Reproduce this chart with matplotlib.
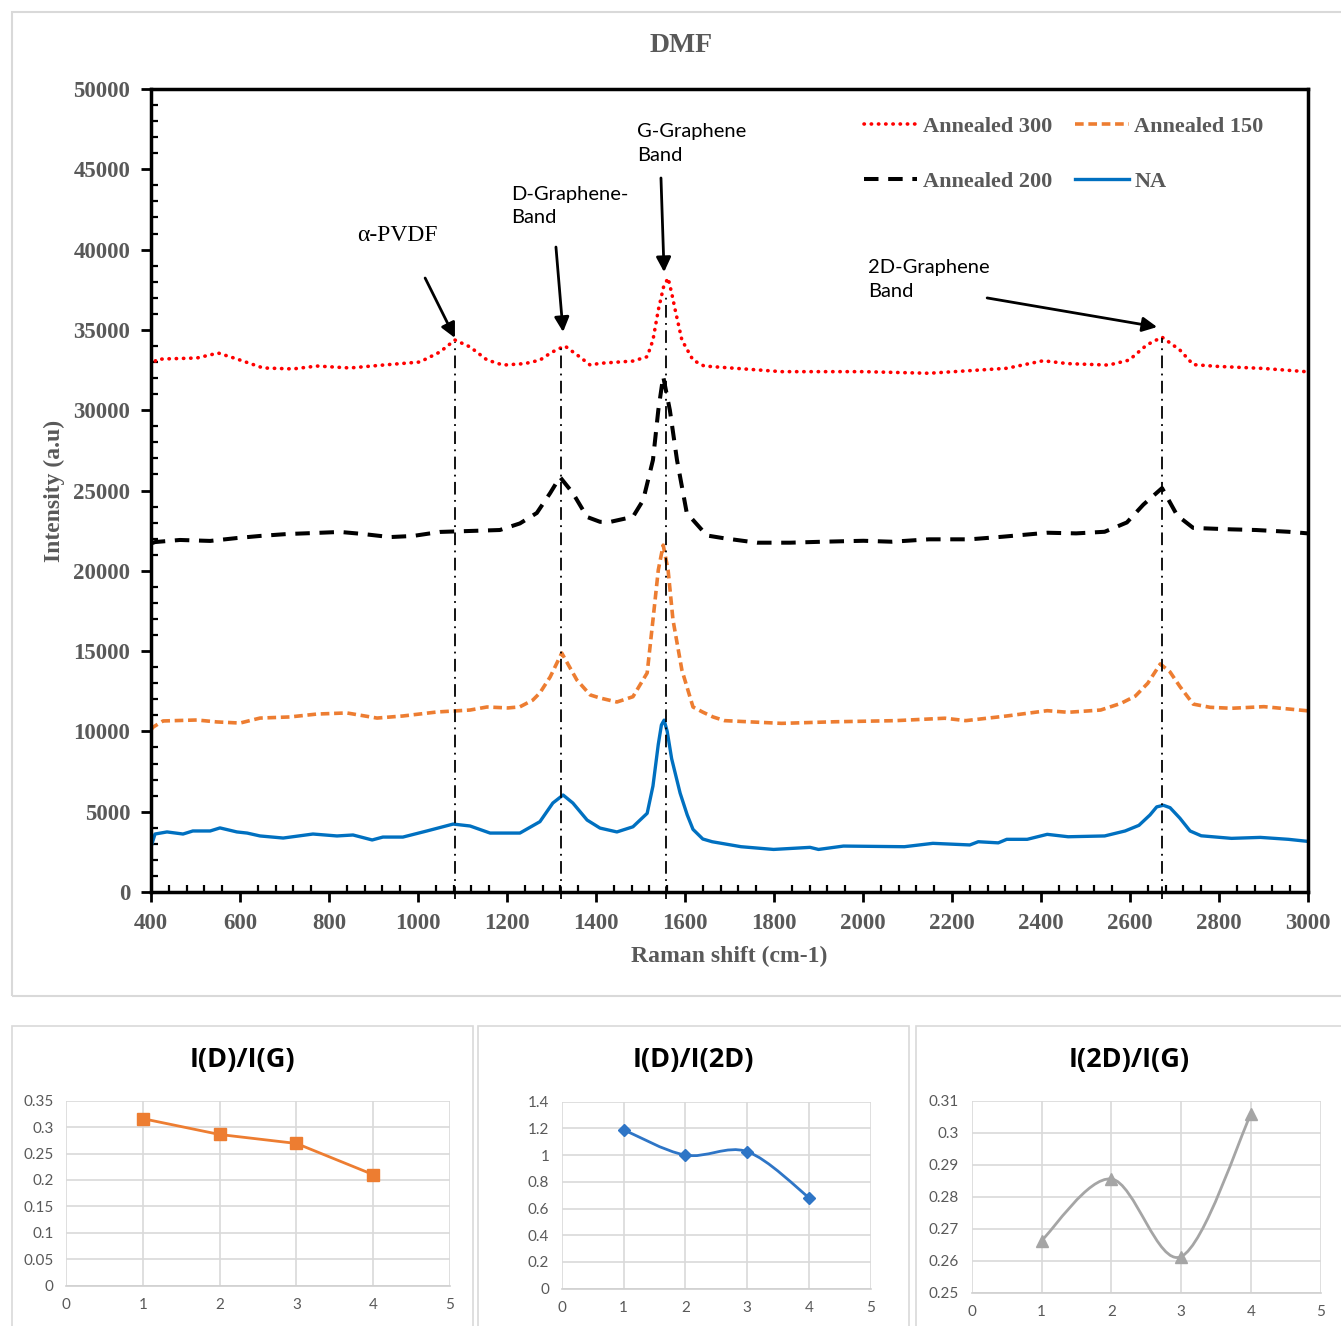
import numpy as np
import matplotlib
matplotlib.use('Agg')
import matplotlib.pyplot as plt
from matplotlib.ticker import MultipleLocator
from matplotlib.patches import Rectangle, PathPatch
from matplotlib.path import Path

# ---- Raman spectra ----
x_a300 = [400, 412, 427, 503, 551, 593, 652, 719, 773, 847, 921, 1004, 1049, 1083, 1117, 1155, 1191,
          1240, 1274, 1300, 1330, 1364, 1387, 1409, 1483, 1515, 1528, 1540, 1552, 1562, 1570, 1578,
          1593, 1618, 1643, 1817, 2001, 2148, 2323, 2405, 2460, 2552, 2598, 2638, 2672, 2712, 2742,
          2795, 2900, 3000]
y_a300 = [32700, 33150, 33190, 33250, 33560, 33190, 32630, 32570, 32750, 32630, 32810, 33000, 33620,
          34370, 33940, 33130, 32810, 32900, 33120, 33600, 34000, 33310, 32810, 32920, 33060, 33330,
          34370, 36240, 37700, 38230, 37300, 36240, 34370, 33120, 32750, 32400, 32400, 32300, 32610,
          33080, 32900, 32810, 33120, 34070, 34550, 33750, 32840, 32730, 32600, 32390]

x_a200 = [400, 409, 465, 533, 593, 645, 706, 764, 825, 877, 937, 989, 1049, 1117, 1184, 1229, 1267,
          1297, 1319, 1348, 1380, 1409, 1431, 1483, 1506, 1528, 1540, 1551, 1566, 1582, 1604, 1649,
          1689, 1762, 1836, 1909, 2001, 2065, 2148, 2240, 2313, 2414, 2479, 2543, 2593, 2630, 2672,
          2706, 2742, 2828, 2883, 2956, 3000]
y_a200 = [21700, 21790, 21920, 21860, 22040, 22170, 22290, 22350, 22420, 22290, 22100, 22170, 22420,
          22480, 22540, 22950, 23600, 24840, 25840, 24840, 23350, 23050, 23040, 23360, 24400, 26900,
          30000, 32100, 30000, 26900, 23600, 22200, 22020, 21750, 21750, 21810, 21870, 21810, 21960,
          21960, 22120, 22370, 22330, 22430, 23010, 24120, 25150, 23450, 22670, 22580, 22540, 22430,
          22330]

x_a150 = [400, 405, 427, 503, 548, 600, 645, 712, 773, 840, 908, 966, 1043, 1117, 1155, 1202, 1229,
          1258, 1274, 1297, 1323, 1357, 1387, 1409, 1447, 1483, 1515, 1528, 1540, 1551, 1562, 1573,
          1593, 1618, 1640, 1663, 1689, 1817, 1937, 2074, 2184, 2231, 2323, 2414, 2461, 2534, 2580,
          2612, 2640, 2668, 2690, 2712, 2742, 2780, 2828, 2901, 3000]
y_a150 = [10100, 10270, 10650, 10710, 10590, 10520, 10830, 10900, 11080, 11150, 10830, 10960, 11210,
          11330, 11520, 11460, 11530, 11950, 12400, 13390, 14880, 13200, 12270, 12080, 11830, 12160,
          13640, 16940, 20050, 21600, 20050, 16940, 13820, 11520, 11200, 10900, 10670, 10500, 10600,
          10670, 10820, 10670, 10960, 11290, 11190, 11330, 11750, 12200, 13000, 14200, 13700, 12800,
          11700, 11500, 11440, 11540, 11280]

x_na = [400, 409, 436, 472, 494, 533, 555, 593, 616, 645, 697, 764, 818, 854, 897, 921, 966, 1020,
        1079, 1117, 1162, 1229, 1274, 1303, 1326, 1348, 1380, 1409, 1447, 1483, 1515, 1528, 1540,
        1547, 1553, 1560, 1570, 1589, 1605, 1618, 1640, 1661, 1726, 1799, 1881, 1900, 1956, 2093,
        2157, 2240, 2259, 2304, 2323, 2369, 2414, 2461, 2543, 2589, 2620, 2645, 2660, 2675, 2690,
        2712, 2735, 2760, 2828, 2893, 2956, 3000]
y_na = [2800, 3610, 3740, 3610, 3800, 3800, 3990, 3740, 3670, 3490, 3360, 3610, 3490, 3550, 3240,
        3420, 3420, 3800, 4230, 4110, 3670, 3670, 4380, 5540, 6040, 5540, 4480, 3980, 3740, 4060,
        4900, 6600, 9200, 10400, 10700, 10000, 8300, 6160, 4800, 3900, 3300, 3130, 2820, 2650,
        2780, 2650, 2860, 2820, 3030, 2930, 3130, 3060, 3280, 3280, 3590, 3440, 3490, 3800, 4150,
        4800, 5300, 5400, 5250, 4600, 3800, 3500, 3340, 3400, 3280, 3150]

# peak marker lines: position and top of line
peak_x = [1083, 1321, 1557, 2672]
peak_top = [34250, 34060, 37200, 34500]

# ---- ratio panels ----
samples = [1, 2, 3, 4]
ratio_dg = [0.316, 0.286, 0.269, 0.21]
ratio_d2d = [1.19, 1.0, 1.026, 0.681]
ratio_2dg = [0.2663, 0.2856, 0.2613, 0.3059]

W, H = 1341, 1326
fig = plt.figure(figsize=(W / 100, H / 100), dpi=100)

def fx(px):
    return px / W

def fy(py):
    return 1 - py / H

gray_txt = '#595959'
serif = 'Liberation Serif'

# outer frames
fig.patches.append(Rectangle((fx(12), fy(996)), 1.0, (996 - 12) / H, transform=fig.transFigure,
                             fill=False, edgecolor='#d9d9d9', lw=1.5))
for x0, x1 in [(12, 473), (478, 909), (916, 1345)]:
    fig.patches.append(Rectangle((fx(x0), -0.01), (x1 - x0) / W, fy(1026) + 0.01,
                                 transform=fig.transFigure, fill=False, edgecolor='#d9d9d9', lw=1.2))

# ---- main spectrum plot ----
ax = fig.add_axes([fx(151), fy(892), (1308 - 151) / W, (892 - 89) / H])
l300, = ax.plot(x_a300, y_a300, color='#ff0000', lw=2.6, ls=(0, (0.1, 1.9)), dash_capstyle='round',
                label='Annealed 300')
l150, = ax.plot(x_a150, y_a150, color='#ED7D31', lw=2.6, ls=(0, (2.4, 1.3)), label='Annealed 150')
l200, = ax.plot(x_a200, y_a200, color='black', lw=2.9, ls=(0, (3.6, 2.4)), label='Annealed 200')
lna, = ax.plot(x_na, y_na, color='#0070C0', lw=2.4, label='NA')

for px_, top in zip(peak_x, peak_top):
    ax.plot([px_, px_], [-450, top], color='black', lw=1.3, ls=(0, (7, 3, 1, 3)), clip_on=False)

ax.set_xlim(400, 3000)
ax.set_ylim(0, 50000)
ax.xaxis.set_major_locator(MultipleLocator(200))
ax.xaxis.set_minor_locator(MultipleLocator(40))
ax.yaxis.set_major_locator(MultipleLocator(5000))
ax.yaxis.set_minor_locator(MultipleLocator(1000))
ax.tick_params(which='major', direction='out', length=7, width=2, pad=8)
ax.tick_params(which='minor', direction='in', length=5, width=1.6)
for s in ax.spines.values():
    s.set_linewidth(2.5)
for lab in ax.get_xticklabels() + ax.get_yticklabels():
    lab.set_fontfamily(serif)
    lab.set_fontweight('bold')
    lab.set_fontsize(16.5)
    lab.set_color(gray_txt)

ax.set_xlabel('Raman shift (cm-1)', fontfamily=serif, fontweight='bold', fontsize=17, color=gray_txt)
ax.set_ylabel('Intensity (a.u)', fontfamily=serif, fontweight='bold', fontsize=17, color=gray_txt)
ax.xaxis.set_label_coords(0.5, -0.067)
ax.yaxis.set_label_coords(-0.074, 0.5)
fig.text(fx(681), fy(45), 'DMF', ha='center', va='center', fontfamily=serif, fontweight='bold',
         fontsize=20, color=gray_txt)

leg = ax.legend([l300, l200, l150, lna], ['Annealed 300', 'Annealed 200', 'Annealed 150', 'NA'],
                ncol=2, loc='upper left', bbox_to_anchor=(0.6065, 0.980), frameon=False,
                borderpad=0, handlelength=2.4, handletextpad=0.25, columnspacing=1.05,
                labelspacing=1.55, prop={'family': serif, 'weight': 'bold', 'size': 16})
for t in leg.get_texts():
    t.set_color(gray_txt)

# annotations
arrow = dict(arrowstyle='-|>', color='black', lw=2, mutation_scale=22, shrinkA=0, shrinkB=0)
ax.text(953, 40850, '\u03b1-PVDF', ha='center', va='center', fontfamily=serif, fontsize=17)
ax.annotate('', xy=(1083, 34500), xytext=(1016, 38230), arrowprops=arrow)
ax.text(1209, 42715, 'D-Graphene-\nBand', ha='left', va='center', fontfamily='Lato', fontsize=14.5,
        linespacing=1.45)
ax.annotate('', xy=(1326, 34870), xytext=(1310, 40160), arrowprops=arrow)
ax.text(1492, 46600, 'G-Graphene\nBand', ha='left', va='center', fontfamily='Lato', fontsize=14.5,
        linespacing=1.45)
ax.annotate('', xy=(1553, 38600), xytext=(1546, 44460), arrowprops=arrow)
ax.text(2011, 38140, '2D-Graphene\nBand', ha='left', va='center', fontfamily='Lato', fontsize=14.5,
        linespacing=1.45)
ax.annotate('', xy=(2661, 35180), xytext=(2279, 36990), arrowprops=arrow)


# ---- small Excel-like panels ----
def smooth_path(ax_, xs, ys, color, lw):
    # Catmull-Rom style smoothing like Excel's "smoothed line"
    pts = list(zip(xs, ys))
    verts = [pts[0]]
    codes = [Path.MOVETO]
    n = len(pts)
    for i in range(n - 1):
        p0 = pts[i - 1] if i > 0 else pts[i]
        p1 = pts[i]
        p2 = pts[i + 1]
        p3 = pts[i + 2] if i + 2 < n else pts[i + 1]
        c1 = (p1[0] + (p2[0] - p0[0]) / 6, p1[1] + (p2[1] - p0[1]) / 6)
        c2 = (p2[0] - (p3[0] - p1[0]) / 6, p2[1] - (p3[1] - p1[1]) / 6)
        verts += [c1, c2, p2]
        codes += [Path.CURVE4] * 3
    ax_.add_patch(PathPatch(Path(verts, codes), facecolor='none', edgecolor=color, lw=lw,
                            zorder=3))


def style_panel(ax_, yticks, ylabels, title, tx):
    ax_.set_xlim(0, 5)
    ax_.set_xticks(range(6))
    ax_.set_ylim(yticks[0], yticks[-1])
    ax_.set_yticks(yticks)
    ax_.set_yticklabels(ylabels)
    ax_.grid(True, color='#d9d9d9', lw=1.2)
    ax_.set_axisbelow(True)
    for k, s in ax_.spines.items():
        s.set_visible(k == 'bottom')
    ax_.spines['bottom'].set_color('#d0d0d0')
    ax_.spines['bottom'].set_linewidth(1.2)
    ax_.tick_params(length=0, labelsize=11, labelcolor=gray_txt, pad=9)
    for lab in ax_.get_xticklabels() + ax_.get_yticklabels():
        lab.set_fontfamily('Lato')
    fig.text(fx(tx), fy(1060), title, ha='center', va='center', fontfamily='Open Sans',
             fontweight='bold', fontsize=19.5, color='black')


ax1 = fig.add_axes([fx(66), fy(1285.5), (450 - 66) / W, (1285.5 - 1100.7) / H])
ax1.plot(samples, ratio_dg, color='#ED7D31', lw=2, marker='s', ms=8.5)
style_panel(ax1, [0, 0.05, 0.1, 0.15, 0.2, 0.25, 0.3, 0.35],
            ['0', '0.05', '0.1', '0.15', '0.2', '0.25', '0.3', '0.35'], 'I(D)/I(G)', 242)

ax2 = fig.add_axes([fx(561.7), fy(1288.7), (871 - 561.7) / W, (1288.7 - 1101.7) / H])
smooth_path(ax2, samples, ratio_d2d, '#2E75C6', 2)
ax2.plot(samples, ratio_d2d, ls='none', color='#2E75C6', marker='D', ms=6.5, zorder=4)
style_panel(ax2, [0, 0.2, 0.4, 0.6, 0.8, 1.0, 1.2, 1.4],
            ['0', '0.2', '0.4', '0.6', '0.8', '1', '1.2', '1.4'], 'I(D)/I(2D)', 693)

ax3 = fig.add_axes([fx(971.7), fy(1292.7), (1320.7 - 971.7) / W, (1292.7 - 1101) / H])
smooth_path(ax3, samples, ratio_2dg, '#A5A5A5', 2)
ax3.plot(samples, ratio_2dg, ls='none', color='#A5A5A5', marker='^', ms=8.5, zorder=4)
style_panel(ax3, [0.25, 0.26, 0.27, 0.28, 0.29, 0.30, 0.31],
            ['0.25', '0.26', '0.27', '0.28', '0.29', '0.3', '0.31'], 'I(2D)/I(G)', 1129)

plt.savefig('out.png', dpi=100)
